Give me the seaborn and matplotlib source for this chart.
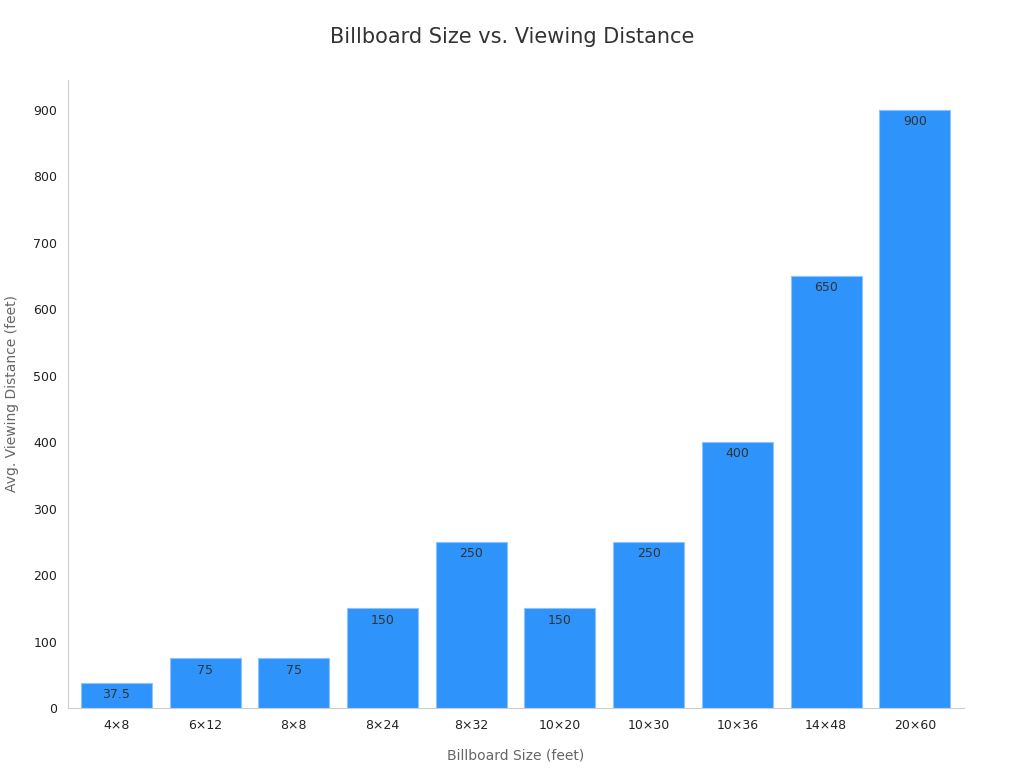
import matplotlib
matplotlib.use("Agg")
import matplotlib.pyplot as plt
import seaborn as sns
import pandas as pd

sizes = ['4×8', '6×12', '8×8', '8×24', '8×32', '10×20', '10×30', '10×36', '14×48', '20×60']
distances = [37.5, 75, 75, 150, 250, 150, 250, 400, 650, 900]
labels = ['37.5', '75', '75', '150', '250', '150', '250', '400', '650', '900']

df = pd.DataFrame({'size': sizes, 'distance': distances})

sns.set_style("white")
fig = plt.figure(figsize=(10.24, 7.68), dpi=100)
ax = fig.add_axes([0.066, 0.078, 0.875, 0.818])

sns.barplot(data=df, x='size', y='distance', color='#2e93fa', saturation=1,
            width=0.8, edgecolor='#8cc4fb', linewidth=0.8, ax=ax)

for i, (v, t) in enumerate(zip(distances, labels)):
    ax.text(i, v - 8, t, ha='center', va='top', fontsize=9, color='#333333')

ax.set_ylim(0, 945)
ax.set_xlim(-0.55, 9.55)
ax.set_yticks(range(0, 901, 100))
ax.tick_params(axis='both', labelsize=9, colors='#222222', length=4)
ax.tick_params(axis='both', color='#888888')
ax.set_xlabel('Billboard Size (feet)', fontsize=10, color='#666666', labelpad=12)
ax.set_ylabel('Avg. Viewing Distance (feet)', fontsize=10, color='#666666', labelpad=10)
for s in ['top', 'right']:
    ax.spines[s].set_visible(False)
for s in ['left', 'bottom']:
    ax.spines[s].set_color('#cccccc')

fig.suptitle('Billboard Size vs. Viewing Distance', fontsize=15, color='#333333', y=0.965)

fig.savefig('out.png', dpi=100)
